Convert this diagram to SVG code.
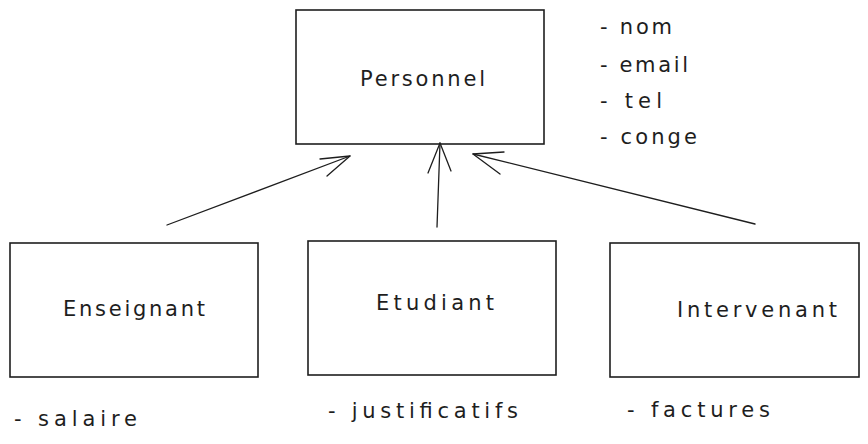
<svg xmlns="http://www.w3.org/2000/svg" width="868" height="444" viewBox="0 0 868 444">
<style>
.box{fill:none;stroke:#1e1e1e;stroke-width:1.6}
.lbl{font-family:"DejaVu Sans","Liberation Sans",sans-serif;font-size:21px;fill:#1e1e1e}
.conn line,.conn polyline{fill:none;stroke:#1e1e1e;stroke-width:1.3;stroke-linecap:round;stroke-linejoin:round}
</style>
<rect width="868" height="444" fill="#ffffff"/>
<g id="personnel">
<rect class="box" x="296" y="10" width="248" height="134"/>
<text class="lbl" x="360" y="86" textLength="125" lengthAdjust="spacing">Personnel</text>
</g>
<g id="personnel-attrs">
<text class="lbl" x="600" y="34" textLength="72" lengthAdjust="spacing">- nom</text>
<text class="lbl" x="600" y="72" textLength="88" lengthAdjust="spacing">- email</text>
<text class="lbl" x="600" y="108" textLength="62" lengthAdjust="spacing">- tel</text>
<text class="lbl" x="600" y="144" textLength="97" lengthAdjust="spacing">- conge</text>
</g>
<g id="enseignant">
<rect class="box" x="10" y="243" width="248" height="134"/>
<text class="lbl" x="63" y="316" textLength="142" lengthAdjust="spacing">Enseignant</text>
<text class="lbl" x="14" y="426" textLength="123" lengthAdjust="spacing">- salaire</text>
</g>
<g id="etudiant">
<rect class="box" x="308" y="241" width="248" height="134"/>
<text class="lbl" x="376" y="310" textLength="118" lengthAdjust="spacing">Etudiant</text>
<text class="lbl" x="328" y="418" textLength="190" lengthAdjust="spacing">- justificatifs</text>
</g>
<g id="intervenant">
<rect class="box" x="610" y="243" width="249" height="134"/>
<text class="lbl" x="677" y="317" textLength="160" lengthAdjust="spacing">Intervenant</text>
<text class="lbl" x="627" y="417" textLength="143" lengthAdjust="spacing">- factures</text>
</g>
<g id="connectors" class="conn">
<line x1="167" y1="225" x2="350" y2="156"/>
<polyline points="320,159 350,156 327,176"/>
<line x1="437" y1="227" x2="440" y2="143"/>
<polyline points="428,173 440,143 451,171"/>
<line x1="755" y1="224" x2="473" y2="154"/>
<polyline points="504,152 473,154 500,174"/>
</g>
</svg>
